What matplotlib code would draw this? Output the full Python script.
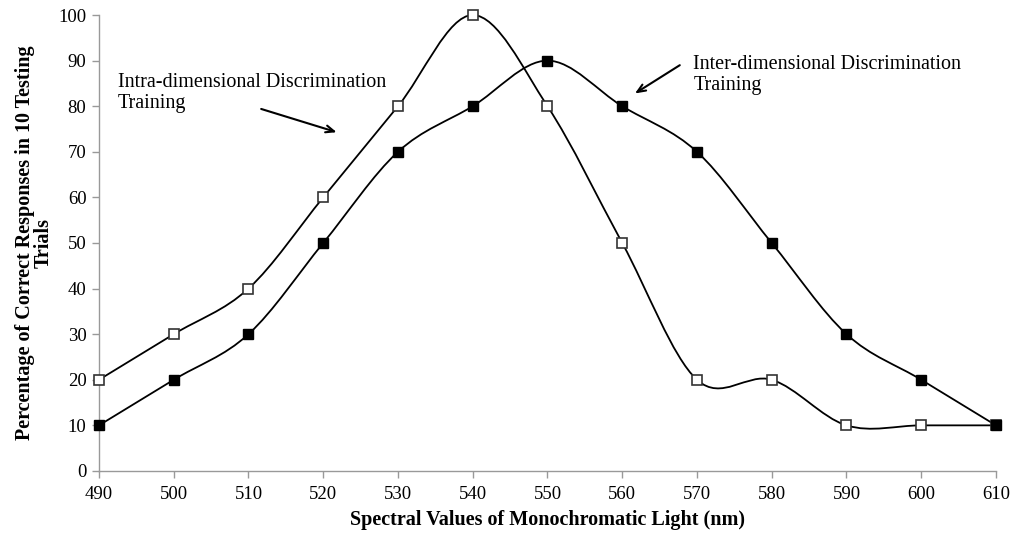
import numpy as np
import matplotlib
matplotlib.use("Agg")
import matplotlib.pyplot as plt
from matplotlib.path import Path
from matplotlib.patches import PathPatch

plt.rcParams['font.family'] = ['Liberation Serif', 'DejaVu Serif']

wavelengths = [490, 500, 510, 520, 530, 540, 550, 560, 570, 580, 590, 600, 610]
intra_dim = [20, 30, 40, 60, 80, 100, 80, 50, 20, 20, 10, 10, 10]
inter_dim = [10, 20, 30, 50, 70, 80, 90, 80, 70, 50, 30, 20, 10]
y_ticks = [0, 10, 20, 30, 40, 50, 60, 70, 80, 90, 100]


def smooth_path(xs, ys):
    """Catmull-Rom style Bezier path through the points (spreadsheet-like smoothing)."""
    pts = np.column_stack([xs, ys]).astype(float)
    n = len(pts)
    verts = [pts[0]]
    codes = [Path.MOVETO]
    for i in range(n - 1):
        p0 = pts[i - 1] if i > 0 else pts[i]
        p1 = pts[i]
        p2 = pts[i + 1]
        p3 = pts[i + 2] if i + 2 < n else pts[i + 1]
        c1 = p1 + (p2 - p0) / 6.0
        c2 = p2 - (p3 - p1) / 6.0
        verts += [c1, c2, p2]
        codes += [Path.CURVE4] * 3
    return Path(verts, codes)


fig = plt.figure(figsize=(10.13, 5.37), dpi=100)
ax = fig.add_axes([0.0977, 0.123, 0.8855, 0.849])

for ys in (intra_dim, inter_dim):
    ax.add_patch(PathPatch(smooth_path(wavelengths, ys), facecolor='none',
                           edgecolor='black', lw=1.3, zorder=2, clip_on=False))

ax.plot(wavelengths, intra_dim, linestyle='none', marker='s', markersize=6.5,
        markerfacecolor='white', markeredgecolor='#333333', markeredgewidth=1.2,
        zorder=3, clip_on=False)
ax.plot(wavelengths, inter_dim, linestyle='none', marker='s', markersize=7,
        markerfacecolor='black', markeredgecolor='black', zorder=3, clip_on=False)

ax.set_xlim(490, 610)
ax.set_ylim(0, 100)
ax.set_xticks(wavelengths)
ax.set_yticks(y_ticks)
ax.tick_params(labelsize=13.5, color='#999999', length=5, width=1, pad=4)
ax.tick_params(axis='x', pad=6)
for s in ('top', 'right'):
    ax.spines[s].set_visible(False)
for s in ('left', 'bottom'):
    ax.spines[s].set_color('#999999')
    ax.spines[s].set_linewidth(1)

ax.set_xlabel('Spectral Values of Monochromatic Light (nm)', fontsize=14.5,
              fontweight='bold', labelpad=5)
ax.set_ylabel('Percentage of Correct Responses in 10 Testing\nTrials', fontsize=14.5,
              fontweight='bold', labelpad=3, linespacing=0.95)

ax.text(492.5, 82.9, 'Intra-dimensional Discrimination\nTraining', fontsize=14.5,
        va='center', ha='left', linespacing=1.15)
ax.annotate('', xy=(521.8, 74.3), xytext=(511.7, 79.4),
            arrowprops=dict(arrowstyle='->,head_length=0.6,head_width=0.25',
                            color='black', lw=1.5, shrinkA=0, shrinkB=0))

ax.text(569.5, 86.8, 'Inter-dimensional Discrimination\nTraining', fontsize=14.5,
        va='center', ha='left', linespacing=1.15)
ax.annotate('', xy=(561.7, 82.8), xytext=(567.7, 89.0),
            arrowprops=dict(arrowstyle='->,head_length=0.6,head_width=0.25',
                            color='black', lw=1.5, shrinkA=0, shrinkB=0))

fig.savefig('out.png', dpi=100)
